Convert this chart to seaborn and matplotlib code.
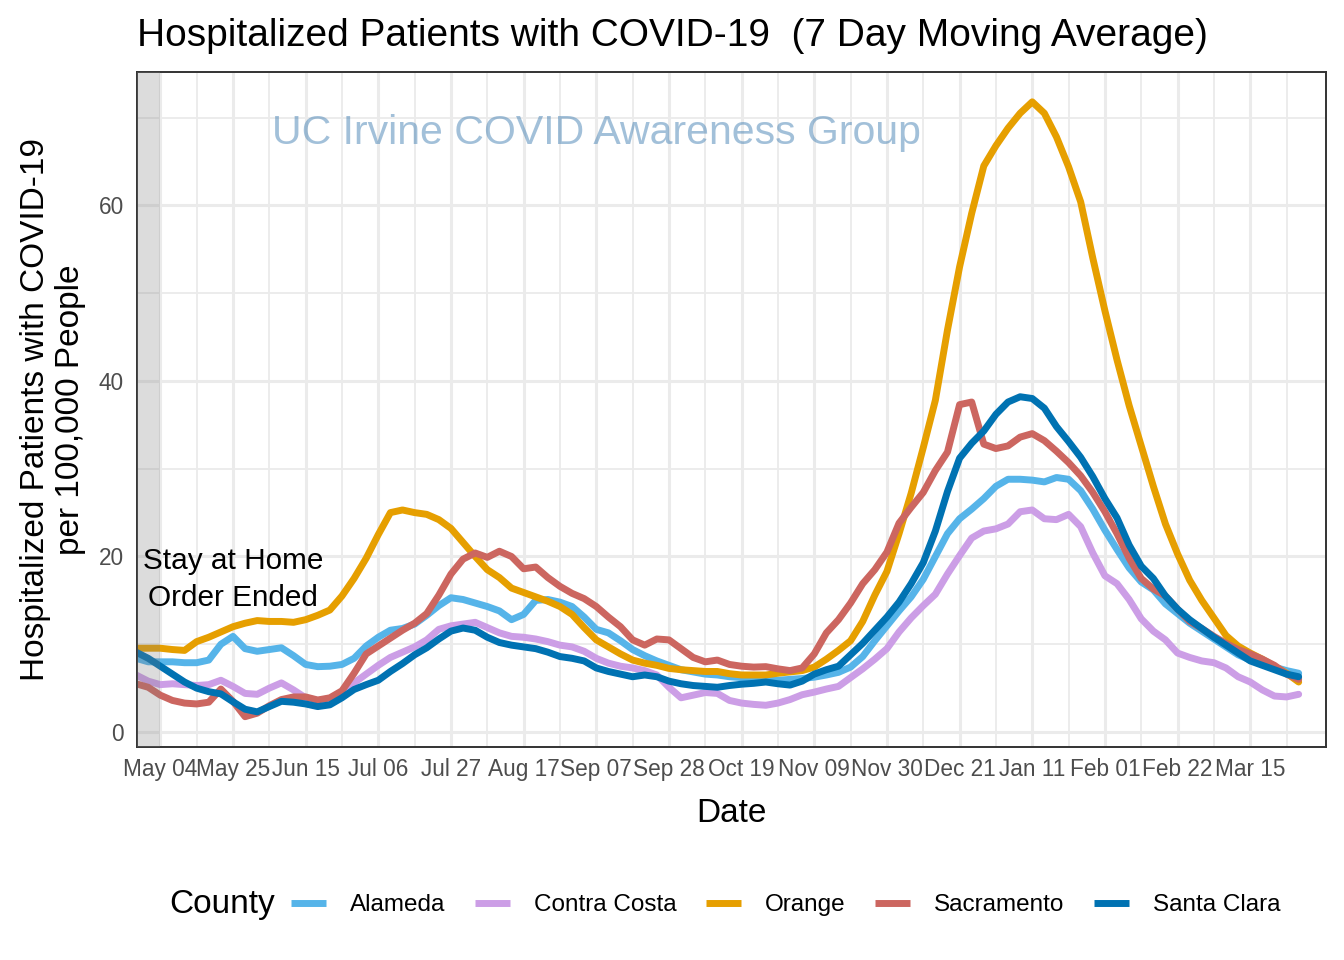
import matplotlib
matplotlib.use("Agg")
import matplotlib.pyplot as plt
import matplotlib.dates as mdates
import pandas as pd
import seaborn as sns

# one reading every 3.5 days, Apr 27 2020 - Mar 29 2021
dates = pd.date_range("2020-04-27", periods=97, freq="84h")

counties = ["Alameda", "Contra Costa", "Orange", "Sacramento", "Santa Clara"]
colors = ["#56B4E9", "#CC9EE6", "#E69F00", "#CC6660", "#0072B2"]

alameda = [8.4, 8.0, 8.0, 8.0, 7.9, 7.9, 8.2, 10.0, 10.9, 9.5,
           9.2, 9.4, 9.6, 8.7, 7.7, 7.45, 7.5, 7.7, 8.4, 9.8,
           10.8, 11.6, 11.8, 12.3, 13.3, 14.4, 15.3, 15.1, 14.7, 14.3,
           13.8, 12.8, 13.4, 15.0, 15.1, 14.8, 14.3, 13.1, 11.7, 11.3,
           10.4, 9.4, 8.7, 8.1, 7.6, 7.1, 6.85, 6.6, 6.5, 6.3,
           6.2, 6.05, 5.9, 5.9, 6.0, 6.1, 6.25, 6.5, 6.8, 7.4,
           8.6, 10.4, 12.1, 13.8, 15.4, 17.4, 20.0, 22.6, 24.3, 25.4,
           26.6, 28.0, 28.8, 28.8, 28.7, 28.5, 29.0, 28.8, 27.5, 25.4,
           23.0, 20.8, 18.7, 17.1, 16.2, 14.6, 13.5, 12.4, 11.5, 10.6,
           9.7, 8.8, 8.2, 7.8, 7.4, 7.0, 6.7]

contra_costa = [6.5, 5.8, 5.4, 5.5, 5.4, 5.3, 5.4, 5.9, 5.2, 4.4,
                4.3, 5.0, 5.6, 4.8, 3.9, 3.6, 3.8, 4.5, 5.6, 6.6,
                7.6, 8.5, 9.1, 9.7, 10.5, 11.7, 12.1, 12.3, 12.5, 11.9,
                11.3, 10.9, 10.8, 10.6, 10.3, 9.9, 9.7, 9.2, 8.4, 7.85,
                7.5, 7.3, 7.0, 6.5, 5.1, 3.9, 4.2, 4.5, 4.4, 3.6,
                3.3, 3.15, 3.05, 3.3, 3.7, 4.25, 4.55, 4.9, 5.2, 6.2,
                7.2, 8.3, 9.5, 11.4, 13.0, 14.4, 15.7, 18.0, 20.1, 22.1,
                22.9, 23.15, 23.7, 25.1, 25.3, 24.3, 24.2, 24.8, 23.4, 20.4,
                17.8, 16.9, 15.1, 12.9, 11.5, 10.5, 9.0, 8.5, 8.1, 7.9,
                7.3, 6.3, 5.7, 4.8, 4.1, 4.0, 4.3]

orange = [9.55, 9.55, 9.55, 9.4, 9.3, 10.3, 10.8, 11.4, 12.0, 12.4,
          12.7, 12.6, 12.6, 12.5, 12.8, 13.3, 13.9, 15.5, 17.5, 19.8,
          22.5, 25.0, 25.3, 25.0, 24.8, 24.2, 23.2, 21.6, 20.0, 18.5,
          17.6, 16.4, 15.9, 15.4, 14.9, 14.3, 13.4, 11.9, 10.5, 9.7,
          8.9, 8.2, 7.85, 7.6, 7.25, 7.1, 7.0, 6.9, 6.9, 6.65,
          6.5, 6.5, 6.5, 6.7, 6.85, 7.0, 7.4, 8.3, 9.3, 10.4,
          12.6, 15.6, 18.3, 22.6, 27.2, 32.4, 37.8, 45.8, 53.0, 59.1,
          64.5, 66.8, 68.8, 70.5, 71.8, 70.5, 67.8, 64.4, 60.4, 54.0,
          48.0, 42.4, 37.2, 32.6, 28.0, 23.7, 20.3, 17.3, 15.0, 13.0,
          11.0, 9.8, 9.0, 8.3, 7.5, 6.7, 5.7]

sacramento = [5.5, 5.1, 4.2, 3.6, 3.3, 3.2, 3.4, 4.9, 3.5, 1.75,
              2.15, 3.0, 3.7, 4.0, 4.0, 3.65, 3.9, 4.7, 6.7, 8.9,
              9.8, 10.7, 11.6, 12.4, 13.5, 15.6, 18.0, 19.7, 20.4, 19.9,
              20.6, 20.0, 18.6, 18.8, 17.6, 16.6, 15.8, 15.2, 14.3, 13.1,
              12.0, 10.5, 9.9, 10.6, 10.5, 9.5, 8.5, 8.0, 8.2, 7.7,
              7.5, 7.4, 7.45, 7.2, 7.0, 7.3, 8.9, 11.3, 12.8, 14.7,
              16.9, 18.5, 20.5, 23.8, 25.6, 27.3, 29.8, 31.9, 37.3, 37.6,
              32.8, 32.3, 32.6, 33.6, 34.0, 33.2, 32.0, 30.7, 29.2, 27.3,
              25.1, 22.6, 19.8, 17.5, 16.3, 15.5, 14.0, 12.6, 11.8, 10.9,
              10.1, 9.4, 8.9, 8.3, 7.6, 6.6, 6.0]

santa_clara = [9.1, 8.4, 7.5, 6.6, 5.7, 5.0, 4.6, 4.35, 3.45, 2.6,
               2.3, 2.9, 3.5, 3.4, 3.2, 2.9, 3.1, 3.9, 4.85, 5.4,
               5.9, 6.9, 7.8, 8.8, 9.6, 10.6, 11.5, 11.85, 11.6, 10.8,
               10.2, 9.9, 9.7, 9.5, 9.1, 8.6, 8.4, 8.1, 7.3, 6.9,
               6.6, 6.3, 6.5, 6.3, 5.8, 5.5, 5.3, 5.2, 5.1, 5.3,
               5.45, 5.55, 5.7, 5.5, 5.35, 5.8, 6.6, 7.1, 7.5, 8.8,
               10.1, 11.6, 13.1, 14.8, 16.9, 19.3, 22.9, 27.4, 31.2, 32.9,
               34.3, 36.2, 37.6, 38.2, 38.0, 36.9, 34.8, 33.1, 31.3, 29.1,
               26.6, 24.4, 21.3, 18.9, 17.5, 15.5, 14.0, 12.8, 11.8, 10.8,
               9.9, 9.0, 8.1, 7.6, 7.1, 6.6, 6.3]

df = pd.DataFrame({"Date": dates, "Alameda": alameda, "Contra Costa": contra_costa,
                   "Orange": orange, "Sacramento": sacramento, "Santa Clara": santa_clara})
df = df.melt(id_vars="Date", var_name="County", value_name="rate")

sns.set_style("white")
plt.rcParams["font.family"] = ["Liberation Sans", "DejaVu Sans"]
plt.rcParams["text.color"] = "black"
plt.rcParams["axes.labelcolor"] = "black"

fig = plt.figure(figsize=(13.44, 9.6), dpi=100)
ax = fig.add_axes([0.10216, 0.22219, 0.88445, 0.70281])

sns.lineplot(data=df, x="Date", y="rate", hue="County", hue_order=counties,
             palette=dict(zip(counties, colors)), linewidth=5.0,
             solid_joinstyle="round", estimator=None, ax=ax)

may4 = pd.Timestamp("2020-05-04")
ax.set_xlim(may4 - pd.Timedelta(days=6.65), may4 + pd.Timedelta(days=336.9))
ax.set_ylim(-1.67, 75.2)
ax.set_xticks(pd.date_range(may4, periods=16, freq="21D"))
ax.set_xticks(pd.date_range(may4 + pd.Timedelta(hours=252), periods=16, freq="21D"), minor=True)
ax.xaxis.set_major_formatter(mdates.DateFormatter("%b %d"))
ax.set_yticks([0, 20, 40, 60])
ax.set_yticks([10, 30, 50, 70], minor=True)

ax.grid(True, which="major", color="#EBEBEB", lw=2.2)
ax.grid(True, which="minor", color="#EBEBEB", lw=1.3)
ax.set_axisbelow(True)

ax.tick_params(which="major", length=5, width=1.4, color="#333333",
               labelcolor="#4D4D4D", labelsize=16.3)
ax.tick_params(axis="x", pad=3)
ax.tick_params(axis="y", pad=4.5)
ax.tick_params(which="minor", length=0)
for s in ax.spines.values():
    s.set_visible(True)
    s.set_color("#333333")
    s.set_linewidth(1.4)

# stay at home shading
ax.axvspan(may4 - pd.Timedelta(days=10), may4, color="grey", alpha=0.27, lw=0, zorder=3)
ax.text(pd.Timestamp("2020-05-25"), 17.4, "Stay at Home\nOrder Ended", ha="center",
        va="center", fontsize=21.4, linespacing=1.4, zorder=4)
ax.text(pd.Timestamp("2020-09-07"), 68.2, "UC Irvine COVID Awareness Group", ha="center",
        va="center", fontsize=29.5, color="steelblue", alpha=0.5)

ax.set_xlabel("Date", fontsize=24)
ax.xaxis.set_label_coords(0.5, (746.7 - 822) / 674.7)
ax.xaxis.label.set_va("baseline")
ax.set_ylabel("Hospitalized Patients with COVID-19\nper 100,000 People", fontsize=24,
              linespacing=1.2)
ax.yaxis.set_label_coords((53 - 137.3) / 1188.7, 0.5)
ax.yaxis.label.set_va("center")

fig.text(137 / 1344, 1 - 46 / 960, "Hospitalized Patients with COVID-19  (7 Day Moving Average)",
         fontsize=28, ha="left", va="baseline")

old = ax.get_legend()
handles = old.legend_handles
labels = [t.get_text() for t in old.get_texts()]
old.remove()
leg = fig.legend(handles, labels, loc="center left", bbox_to_anchor=(291 / 1344, 1 - 905 / 960),
                 ncol=5, frameon=False, fontsize=17.5, handlelength=1.44, handletextpad=1.0,
                 columnspacing=1.2, borderaxespad=0, borderpad=0)
for h in leg.legend_handles:
    h.set_linewidth(5.0)
    h.set_solid_capstyle("butt")
fig.text(169 / 1344, 1 - 905 / 960, "County", fontsize=24, ha="left", va="center")

fig.savefig("out.png", dpi=100)
